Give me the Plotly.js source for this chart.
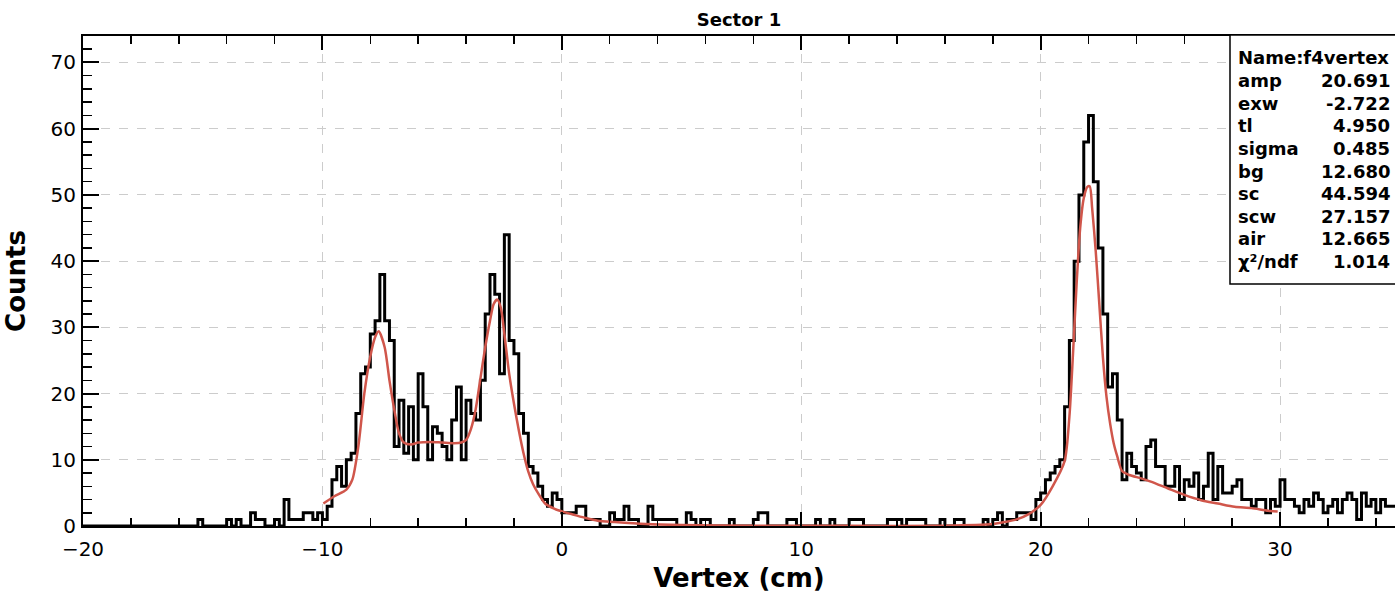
<!DOCTYPE html>
<html>
<head>
<meta charset="utf-8">
<script src="https://cdn.plot.ly/plotly-3.0.1.min.js"></script>
<style>html,body{margin:0;padding:0;background:#fff;}#chart{width:1395px;height:593px;}</style>
</head>
<body>
<div id="chart"></div>
<script>
// Histogram: bin start, bin width, counts per bin
const binStart = -20;
const binWidth = 0.2;
const counts = [
  0,0,0,0,0, 0,0,0,0,0, 0,0,0,0,0, 0,0,0,0,0,
  0,0,0,0,1,
  0,0,0,0,0,
  1,0,1,0,0,
  2,1,1,0,0,
  1,0,4,1,1,
  1,2,2,1,2,
  1,3,7,9,6,
  10,11,17,23,24,
  29,31,38,31,28,
  12,19,11,18,10,
  23,18,10,15,14,
  12,10,16,21,10,
  19,17,16,22,32,
  38,35,23,44,28,
  26,17,14,9,8,
  6,4,3,5,4,
  2,2,2,3,3,
  1,1,1,0,0,
  2,1,1,3,1,
  1,0,0,3,1,
  1,1,1,1,0,
  0,2,1,0,1,
  1,0,0,0,0,
  1,0,0,0,0,
  1,2,2,0,0,
  0,0,1,1,0,
  0,0,0,1,0,
  0,1,0,0,0,
  1,1,1,0,0,
  0,0,0,1,1,
  1,0,1,1,1,
  1,0,0,0,1,
  0,0,1,1,0,
  0,0,0,1,0,
  1,2,0,1,1,
  2,2,2,1,4,
  5,7,8,9,10,
  18,28,40,50,58,
  62,52,42,32,21,
  23,16,7,11,9,
  8,7,12,13,9,
  9,6,6,9,4,
  7,6,8,4,6,
  11,4,9,5,5,
  6,7,4,4,3,
  4,4,2,4,3,
  7,4,4,3,2,
  4,3,5,4,2,
  3,4,2,4,5,
  4,1,5,3,4,
  2,4,3,3
];

// Fit curve f4vertex
const fitX = [-9.96,-9.5,-9.0,-8.75,-8.5,-8.25,-8.0,-7.8,-7.65,-7.4,
  -7.2,-7.0,-6.8,-6.6,-6.3,-6.0,-5.5,-5.0,-4.5,-4.2,
  -4.0,-3.8,-3.6,-3.4,-3.2,-3.0,-2.85,-2.7,-2.55,-2.4,
  -2.2,-2.0,-1.8,-1.6,-1.4,-1.2,-1.0,-0.7,-0.3,0.1,
  0.5,1.0,1.5,2.2,3.5,5.0,8.0,12.0,16.0,18.0,
  18.5,19.0,19.5,20.0,20.5,21.0,21.2,21.35,21.5,21.65,
  21.8,21.95,22.05,22.15,22.3,22.45,22.6,22.75,22.9,23.05,
  23.2,23.4,23.7,24.2,24.6,25.3,26.0,26.7,27.4,28.1,
  28.8,29.5,29.9];
const fitY = [3.4,4.5,5.5,7,12,20,25.6,28.5,29.4,27,
  22,17.6,14,12.6,12.3,12.6,12.7,12.6,12.5,12.6,
  13,14.6,17.6,22.3,27,31,33.5,34.2,33,29,
  23,18.5,14.5,11,8.2,6.3,5,3.4,2.6,2.1,
  1.7,1.2,0.8,0.6,0.3,0.15,0.05,0.02,0.05,0.3,
  0.6,1.0,1.8,3.2,6,9.8,16.5,26,36.5,45,
  49.5,51.2,51.3,48,41.5,33.5,25.5,19.5,15.5,12.5,
  10.5,8.3,7.7,7.2,6.7,5.7,4.7,3.9,3.4,2.9,
  2.7,2.3,2.2];

// Stats box text
const statNames = ["amp","exw","tl","sigma","bg","sc","scw","air","χ²/ndf"];
const statValues = ["20.691","-2.722","4.950","0.485","12.680","44.594","27.157","12.665","1.014"];
const fitName = "Name:f4vertex";

// build step outline from bin edges
const edgesX = [];
const stepY = [];
for (let i = 0; i < counts.length; i++) {
  edgesX.push(binStart + i * binWidth);
  stepY.push(counts[i]);
}
edgesX.push(binStart + counts.length * binWidth);
stepY.push(counts[counts.length - 1]);

const FONT = "DejaVu Sans";

const traces = [
  {
    x: edgesX, y: stepY, type: "scatter", mode: "lines",
    line: {shape: "hv", color: "#000000", width: 3},
    hoverinfo: "skip", showlegend: false
  },
  {
    x: fitX, y: fitY, type: "scatter", mode: "lines",
    line: {shape: "spline", smoothing: 0.7, color: "#d0564b", width: 2.5},
    hoverinfo: "skip", showlegend: false
  }
];

// plot area geometry (pixels) for the stats box placement
const L = 83, T = 36, W = 1395 - 83, H = 526 - 36;
const px2x = p => (p - L) / W;
const px2y = p => (526 - p) / H;

const annotations = [];
const rowTop = 58, rowStep = 22.6;
annotations.push({
  xref: "paper", yref: "paper", x: px2x(1236), y: px2y(rowTop),
  xanchor: "left", yanchor: "middle", showarrow: false,
  text: "<b>" + fitName + "</b>", font: {family: FONT, size: 18, color: "#000"}
});
for (let i = 0; i < statNames.length; i++) {
  const py = rowTop + (i + 1) * rowStep;
  annotations.push({
    xref: "paper", yref: "paper", x: px2x(1236), y: px2y(py),
    xanchor: "left", yanchor: "middle", showarrow: false,
    text: "<b>" + statNames[i] + "</b>", font: {family: FONT, size: 18, color: "#000"}
  });
  annotations.push({
    xref: "paper", yref: "paper", x: px2x(1392), y: px2y(py),
    xanchor: "right", yanchor: "middle", showarrow: false,
    text: "<b>" + statValues[i] + "</b>", font: {family: FONT, size: 18, color: "#000"}
  });
}

const layout = {
  width: 1395, height: 593,
  margin: {l: L, r: 0, t: T, b: 593 - 526, pad: 0},
  paper_bgcolor: "#ffffff", plot_bgcolor: "#ffffff",
  showlegend: false,
  title: {
    text: "<b>Sector 1</b>", x: 0.5, xref: "paper", xanchor: "center",
    y: 1 - 20 / 593, yref: "container", yanchor: "middle",
    font: {family: FONT, size: 18, color: "#000"}
  },
  xaxis: {
    range: [-20, 34.8], tick0: -20, dtick: 10,
    ticks: "inside", ticklen: 14, tickwidth: 2, tickcolor: "#000",
    minor: {dtick: 2, ticks: "inside", ticklen: 8, tickwidth: 1.5, tickcolor: "#000", showgrid: false},
    showline: true, linecolor: "#000", linewidth: 2, mirror: "ticks",
    showgrid: true, gridcolor: "#cccccc", griddash: "dash", gridwidth: 1,
    zeroline: false,
    ticklabelstandoff: 4,
    tickfont: {family: FONT, size: 20, color: "#000"},
    title: {text: "<b>Vertex (cm)</b>", font: {family: FONT, size: 26, color: "#000"}, standoff: 10}
  },
  yaxis: {
    range: [0, 74], tick0: 0, dtick: 10,
    ticks: "inside", ticklen: 16, tickwidth: 2, tickcolor: "#000",
    minor: {dtick: 2, ticks: "inside", ticklen: 9, tickwidth: 1.5, tickcolor: "#000", showgrid: false},
    showline: true, linecolor: "#000", linewidth: 2, mirror: false,
    showgrid: true, gridcolor: "#cccccc", griddash: "dash", gridwidth: 1,
    zeroline: false,
    ticklabelstandoff: 1,
    tickfont: {family: FONT, size: 20, color: "#000"},
    title: {text: "<b>Counts</b>", font: {family: FONT, size: 26, color: "#000"}, standoff: 17}
  },
  shapes: [
    {type: "rect", xref: "paper", yref: "paper", layer: "above",
     x0: px2x(1230), x1: px2x(1400), y0: px2y(284), y1: px2y(35),
     fillcolor: "#ffffff", line: {color: "#000", width: 1.5}}
  ],
  annotations: annotations
};

Plotly.newPlot("chart", traces, layout, {displayModeBar: false, staticPlot: true});
</script>
</body>
</html>
